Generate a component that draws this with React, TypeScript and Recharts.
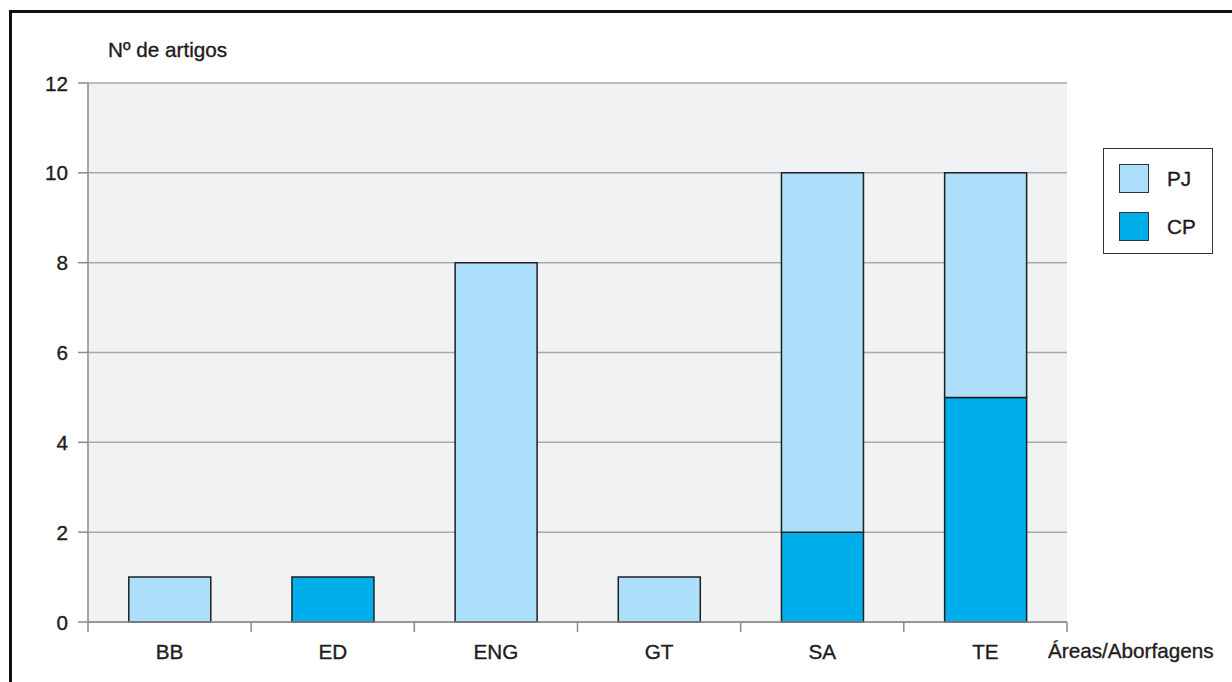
import React from "react";
import { BarChart, Bar, XAxis, YAxis, CartesianGrid } from "recharts";

// Article counts per thematic area, split by type
const categories = ["BB", "ED", "ENG", "GT", "SA", "TE"];
const cpValues = [0, 1, 0, 0, 2, 5];
const pjValues = [1, 0, 8, 1, 8, 5];
const yTicks = [0, 2, 4, 6, 8, 10, 12];

const data = categories.map((area, i) => ({ area, CP: cpValues[i], PJ: pjValues[i] }));

const W = 1232;
const H = 682;
const PLOT_LEFT = 88;
const PLOT_RIGHT = 1067;
const PLOT_TOP = 83;
const PLOT_BOTTOM = 622;
const STEP = (PLOT_RIGHT - PLOT_LEFT) / categories.length;

const FONT = "'Liberation Sans', Arial, sans-serif";
const FONT_SIZE = 20.7;
const TEXT_COLOR = "#1f1b1c";
const AXIS_COLOR = "#8a8a8a";
const PJ_COLOR = "#acdffa";
const CP_COLOR = "#00aeeb";
const BAR_STROKE = "#1f1f1f";

const textStyle: React.CSSProperties = {
  fontFamily: FONT,
  fontSize: FONT_SIZE,
  fill: TEXT_COLOR,
  stroke: TEXT_COLOR,
  strokeWidth: 0.35,
};

// Category label plus boundary tick marks between categories
const AreaTick = (props: any) => {
  const { x, y, payload, index } = props;
  const last = index === categories.length - 1;
  return (
    <g>
      <line x1={x - STEP / 2} x2={x - STEP / 2} y1={y - 10} y2={y} stroke={AXIS_COLOR} strokeWidth={1.5} />
      {last && (
        <line x1={x + STEP / 2} x2={x + STEP / 2} y1={y - 10} y2={y} stroke={AXIS_COLOR} strokeWidth={1.5} />
      )}
      <text x={x} y={y} dy={27} textAnchor="middle" style={textStyle}>
        {payload.value}
      </text>
    </g>
  );
};

const CountTick = (props: any) => {
  const { x, y, payload } = props;
  return (
    <text x={x} y={y} dy={7.5} textAnchor="end" style={textStyle}>
      {payload.value}
    </text>
  );
};

const legendItems = [
  { name: "PJ", color: PJ_COLOR },
  { name: "CP", color: CP_COLOR },
];

const htmlText: React.CSSProperties = {
  position: "absolute",
  fontFamily: FONT,
  fontSize: FONT_SIZE,
  color: TEXT_COLOR,
  WebkitTextStroke: `0.35px ${TEXT_COLOR}`,
  lineHeight: "24px",
  whiteSpace: "nowrap",
};

export default function App() {
  return (
    <div style={{ position: "absolute", left: 0, top: 0, width: W, height: H, background: "#fff", overflow: "hidden" }}>
      <div
        style={{
          position: "absolute",
          left: 9,
          top: 10,
          width: W,
          height: H,
          borderLeft: "3px solid #111",
          borderTop: "3px solid #111",
          boxSizing: "border-box",
        }}
      />
      <div style={{ ...htmlText, left: 108, top: 38 }}>Nº de artigos</div>
      <div style={{ ...htmlText, left: 1048, top: 639 }}>Áreas/Aborfagens</div>
      <div style={{ position: "absolute", left: 0, top: 0 }}>
        <BarChart
          width={W}
          height={H}
          data={data}
          margin={{ top: PLOT_TOP, right: W - PLOT_RIGHT, bottom: 0, left: 0 }}
          barCategoryGap="25%"
        >
          <CartesianGrid vertical={false} stroke="#a9a9a9" strokeWidth={1.5} fill="#f1f2f4" />
          <XAxis
            dataKey="area"
            height={H - PLOT_BOTTOM}
            tickLine={false}
            tickSize={10}
            tickMargin={0}
            axisLine={{ stroke: AXIS_COLOR, strokeWidth: 1.5 }}
            tick={<AreaTick />}
            interval={0}
          />
          <YAxis
            width={PLOT_LEFT}
            domain={[0, 12]}
            ticks={yTicks}
            tickSize={10}
            tickMargin={10}
            tickLine={{ stroke: AXIS_COLOR, strokeWidth: 1.5 }}
            axisLine={{ stroke: AXIS_COLOR, strokeWidth: 1.5 }}
            tick={<CountTick />}
            interval={0}
          />
          <Bar dataKey="CP" stackId="a" fill={CP_COLOR} stroke={BAR_STROKE} strokeWidth={1.5} isAnimationActive={false} />
          <Bar dataKey="PJ" stackId="a" fill={PJ_COLOR} stroke={BAR_STROKE} strokeWidth={1.5} isAnimationActive={false} />
        </BarChart>
      </div>
      <div
        style={{
          position: "absolute",
          left: 1103,
          top: 148,
          width: 110,
          height: 106,
          border: "1.5px solid #333",
          boxSizing: "border-box",
          background: "#fff",
        }}
      >
        {legendItems.map((item, i) => (
          <div
            key={item.name}
            style={{ position: "absolute", left: 15, top: 15 + i * 48, display: "flex", alignItems: "center" }}
          >
            <div
              style={{
                width: 30,
                height: 29,
                background: item.color,
                border: "1.5px solid #333",
                boxSizing: "border-box",
              }}
            />
            <span
              style={{
                marginLeft: 18,
                fontFamily: FONT,
                fontSize: FONT_SIZE,
                color: TEXT_COLOR,
                WebkitTextStroke: `0.35px ${TEXT_COLOR}`,
              }}
            >
              {item.name}
            </span>
          </div>
        ))}
      </div>
    </div>
  );
}
